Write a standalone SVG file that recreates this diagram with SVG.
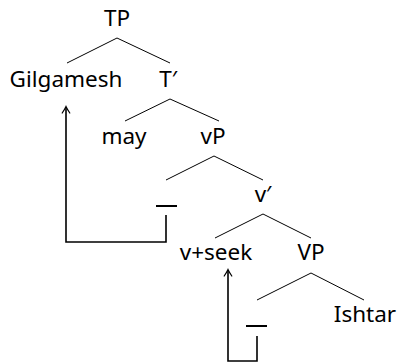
<svg xmlns="http://www.w3.org/2000/svg" width="400" height="363" viewBox="0 0 400 363">
<defs>
<style>
text{font-family:"Noto Sans","Liberation Sans",sans-serif;font-size:22.5px;fill:#000;text-anchor:middle}
.br{stroke:#000;stroke-width:1;fill:none}
.mv{stroke:#000;stroke-width:1.6;fill:none}
.tr{stroke:#000;stroke-width:2;fill:none}
</style>
<marker id="ah" viewBox="-8 -5 10 10" refX="0" refY="0" markerWidth="10" markerHeight="10" markerUnits="userSpaceOnUse" orient="auto" overflow="visible">
<path d="M-6,-3.8 Q-2,-1.2 0.6,0 Q-2,1.2 -6,3.8" stroke="#000" stroke-width="1.2" fill="none" stroke-linecap="round"/>
</marker>
</defs>
<rect width="400" height="363" fill="#fff"/>
<g id="connectors">
<path class="br" d="M67,63 L117,38 L170,63"/>
<path class="br" d="M125,121 L170,99 L219,121"/>
<path class="br" d="M166,180 L214,156 L263,180"/>
<path class="br" d="M215,238 L263,214 L311,238"/>
<path class="br" d="M257,300 L311,273 L364,300"/>
<path class="mv" d="M166,215 L166,242 L66,242 L66,107" marker-end="url(#ah)"/>
<path class="mv" d="M257,336 L257,361 L228,361 L228,270" marker-end="url(#ah)"/>
</g>
<g id="TP"><text x="117" y="26">TP</text></g>
<g id="Gilgamesh"><text x="66" y="87">Gilgamesh</text></g>
<g id="Tbar"><text x="168" y="87">T′</text></g>
<g id="may"><text x="124" y="144">may</text></g>
<g id="vP"><text x="213" y="144">vP</text></g>
<g id="trace1"><line class="tr" x1="156" y1="206" x2="177" y2="206"/></g>
<g id="vbar"><text x="263" y="202">v′</text></g>
<g id="vseek"><text x="216" y="260">v+seek</text></g>
<g id="VP"><text x="311" y="260">VP</text></g>
<g id="trace2"><line class="tr" x1="246" y1="326" x2="267" y2="326"/></g>
<g id="Ishtar"><text x="365" y="322">Ishtar</text></g>
</svg>
